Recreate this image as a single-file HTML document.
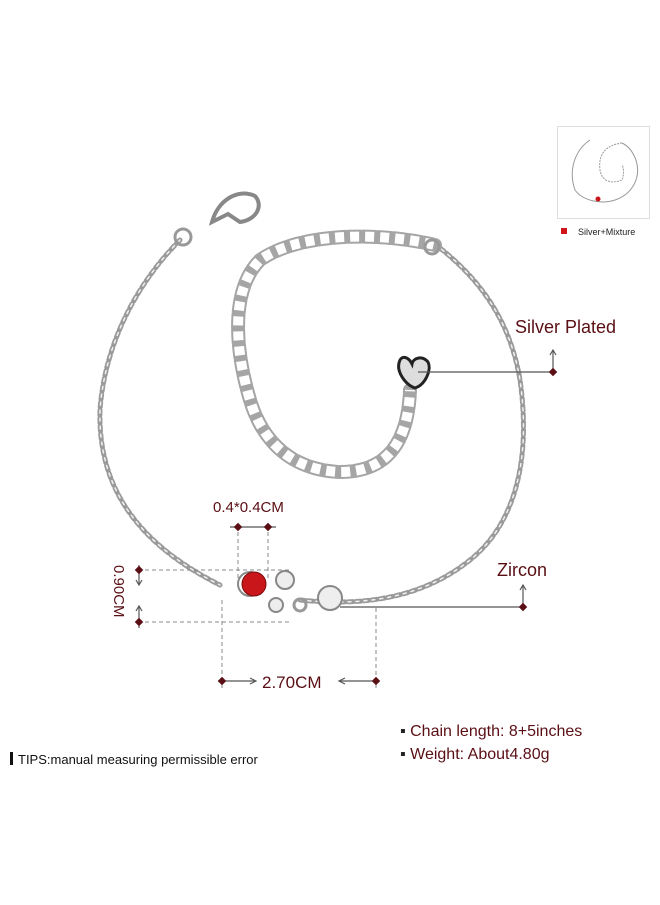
<!DOCTYPE html>
<html><head><meta charset="utf-8"><style>
body{margin:0;width:660px;height:900px;background:#fff;overflow:hidden;font-family:"Liberation Sans",sans-serif}
</style></head><body>
<svg width="660" height="900" xmlns="http://www.w3.org/2000/svg" font-family="Liberation Sans, sans-serif">
<g fill="none" stroke-linecap="round">
<path d="M180,240 C140,280 105,340 100,410 C98,480 130,540 220,585" stroke="#9a9a9a" stroke-width="5" stroke-dasharray="5 3"/>
<path d="M300,600 C360,606 420,600 470,560 C520,520 530,450 520,380 C510,320 480,280 440,248" stroke="#9a9a9a" stroke-width="5" stroke-dasharray="5 3"/>
<path d="M180,240 C140,280 105,340 100,410 C98,480 130,540 220,585" stroke="#f0f0f0" stroke-width="1.5" stroke-dasharray="3 5"/>
<path d="M300,600 C360,606 420,600 470,560 C520,520 530,450 520,380 C510,320 480,280 440,248" stroke="#f0f0f0" stroke-width="1.5" stroke-dasharray="3 5"/>
<path d="M435,245 C380,232 300,232 260,260 C230,290 235,350 250,400 C262,440 290,470 340,472 C385,472 408,445 410,390" stroke="#a5a5a5" stroke-width="14" stroke-dasharray="12 3"/>
<path d="M435,245 C380,232 300,232 260,260 C230,290 235,350 250,400 C262,440 290,470 340,472 C385,472 408,445 410,390" stroke="#fff" stroke-width="10" stroke-dasharray="9 6" stroke-dashoffset="-1.5" stroke-linecap="butt"/>
<circle cx="432" cy="247" r="7" stroke="#999" stroke-width="3"/>
<path d="M212,222 C218,200 238,188 255,196 C264,206 256,220 240,222 L228,214 Z" stroke="#888" stroke-width="4" fill="#fff"/>
<circle cx="183" cy="237" r="8" stroke="#999" stroke-width="3"/>
<path d="M400,360 C395,370 405,385 415,388 C425,385 432,370 428,362 C422,355 413,358 412,364 C408,356 402,356 400,360Z" stroke="#222" stroke-width="3" fill="#ddd"/>
</g>
<circle cx="250" cy="584" r="12" fill="#fff" stroke="#888" stroke-width="2"/>
<circle cx="254" cy="584" r="12" fill="#c8161a" stroke="#7a0c0e" stroke-width="1"/>
<circle cx="285" cy="580" r="9" fill="#eee" stroke="#888" stroke-width="2"/>
<circle cx="276" cy="605" r="7" fill="#eee" stroke="#888" stroke-width="2"/>
<circle cx="300" cy="605" r="6" fill="none" stroke="#999" stroke-width="3"/>
<circle cx="330" cy="598" r="12" fill="#eee" stroke="#888" stroke-width="2"/>
<g stroke="#888" stroke-width="1" stroke-dasharray="4 3" fill="none">
<line x1="238" y1="525" x2="238" y2="585"/><line x1="268" y1="525" x2="268" y2="580"/>
<line x1="138" y1="570" x2="290" y2="570"/><line x1="138" y1="622" x2="290" y2="622"/>
<line x1="222" y1="600" x2="222" y2="688"/><line x1="376" y1="608" x2="376" y2="688"/>
</g>
<g stroke="#555" stroke-width="1.2" fill="none">
<line x1="418" y1="372" x2="555" y2="372"/>
<line x1="553" y1="372" x2="553" y2="350"/><path d="M550,355 L553,350 L556,355"/>
<line x1="340" y1="607" x2="523" y2="607"/>
<line x1="523" y1="607" x2="523" y2="585"/><path d="M520,590 L523,585 L526,590"/>
<line x1="230" y1="527" x2="276" y2="527"/>
<line x1="218" y1="681" x2="255" y2="681"/><path d="M250,678 L256,681 L250,684"/>
<line x1="340" y1="681" x2="378" y2="681"/><path d="M345,678 L339,681 L345,684"/>
<line x1="139" y1="565" x2="139" y2="585"/><path d="M136,580 L139,585 L142,580"/>
<line x1="139" y1="606" x2="139" y2="628"/><path d="M136,611 L139,606 L142,611"/>
</g>
<g fill="#5a0f14">
<rect x="550" y="369" width="6" height="6" transform="rotate(45 553 372)"/>
<rect x="520" y="604" width="6" height="6" transform="rotate(45 523 607)"/>
<rect x="235" y="524" width="6" height="6" transform="rotate(45 238 527)"/>
<rect x="265" y="524" width="6" height="6" transform="rotate(45 268 527)"/>
<rect x="219" y="678" width="6" height="6" transform="rotate(45 222 681)"/>
<rect x="373" y="678" width="6" height="6" transform="rotate(45 376 681)"/>
<rect x="136" y="567" width="6" height="6" transform="rotate(45 139 570)"/>
<rect x="136" y="619" width="6" height="6" transform="rotate(45 139 622)"/>
</g>
<g fill="#5a0f14">
<text x="515" y="333" font-size="18">Silver Plated</text>
<text x="497" y="576" font-size="18">Zircon</text>
<text x="213" y="512" font-size="15">0.4*0.4CM</text>
<text x="262" y="688" font-size="17">2.70CM</text>
<text transform="translate(114,565) rotate(90)" font-size="15">0.90CM</text>
<text x="400" y="736" font-size="16"><tspan fill="#222">▪ </tspan>Chain length: 8+5inches</text>
<text x="400" y="759" font-size="16"><tspan fill="#222">▪ </tspan>Weight: About4.80g</text>
</g>
<rect x="10" y="752" width="3" height="13" fill="#111"/>
<text x="18" y="764" font-size="13" fill="#111">TIPS:manual measuring permissible error</text>
<rect x="557.5" y="126.5" width="92" height="92" fill="#fff" stroke="#ddd"/>
<g fill="none" stroke="#999" stroke-width="1">
<path d="M590,140 C575,150 568,170 575,190 C582,200 600,205 615,200 C630,195 642,180 636,160 C632,150 628,146 622,143"/>
<path d="M622,143 C605,145 598,155 600,170 C602,182 612,184 622,180 C624,175 624,168 622,165" stroke-dasharray="2 1"/>
</g>
<circle cx="598" cy="199" r="2.5" fill="#c8161a"/>
<rect x="561" y="228" width="6" height="6" fill="#d0141a"/>
<text x="578" y="235" font-size="9" fill="#222">Silver+Mixture</text>
</svg>
</body></html>
